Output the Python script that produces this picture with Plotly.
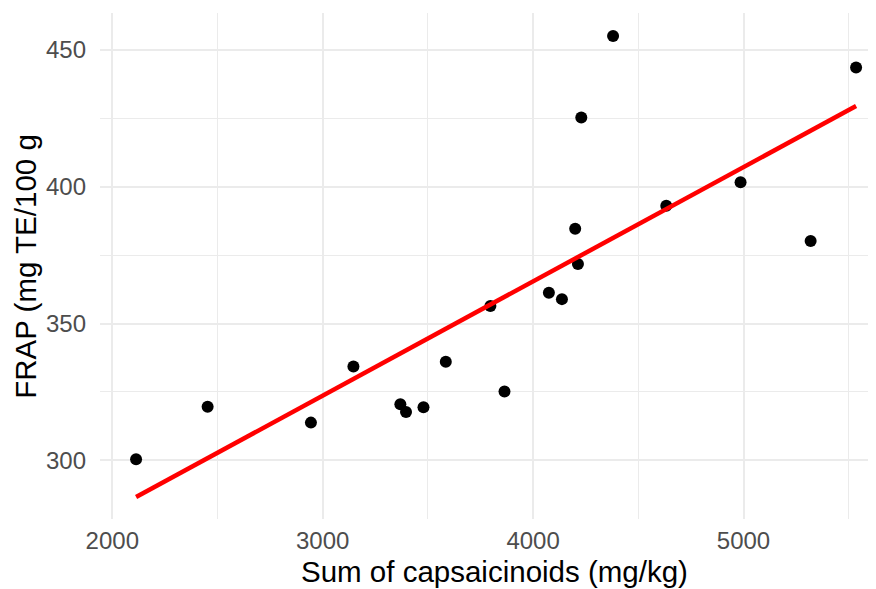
import numpy as np
import plotly.graph_objects as go

capsaicinoids = [2113, 2453, 2944, 3146, 3369, 3396, 3479, 3585, 3797, 3864,
                 4075, 4137, 4200, 4213, 4229, 4380, 4633, 4986, 5319, 5535]
frap = [300.4, 319.6, 313.8, 334.3, 320.5, 317.7, 319.4, 336.0, 356.4, 325.2,
        361.2, 358.9, 384.6, 371.7, 425.2, 455.0, 393.0, 401.6, 380.1, 443.5]

x_ticks = [2000, 3000, 4000, 5000]
y_ticks = [300, 350, 400, 450]
x_title = "Sum of capsaicinoids (mg/kg)"
y_title = "FRAP (mg TE/100 g"

xa = np.array(capsaicinoids, dtype=float)
ya = np.array(frap, dtype=float)
slope, intercept = np.polyfit(xa, ya, 1)
line_x = [xa.min(), xa.max()]
line_y = [slope * v + intercept for v in line_x]

FONT = "Liberation Sans, Arial, Helvetica, sans-serif"
GRID = "#EBEBEB"

fig = go.Figure()
fig.add_trace(go.Scatter(x=capsaicinoids, y=frap, mode="markers",
                         marker=dict(color="black", size=12, line=dict(width=0)),
                         showlegend=False, hoverinfo="x+y"))
fig.add_trace(go.Scatter(x=line_x, y=line_y, mode="lines",
                         line=dict(color="#FF0000", width=4.5),
                         showlegend=False))

fig.update_layout(
    width=868, height=581,
    margin=dict(l=92, r=0, t=5, b=70),
    paper_bgcolor="white", plot_bgcolor="white",
    font=dict(family=FONT),
    xaxis=dict(range=[1941.5, 5629.7], tickvals=x_ticks,
               ticktext=[str(v) for v in x_ticks],
               showgrid=True, gridcolor=GRID, gridwidth=1.8,
               minor=dict(dtick=500, tick0=2000, showgrid=True, gridcolor=GRID, gridwidth=1.0),
               zeroline=False, showline=False, ticks="",
               tickfont=dict(size=24, color="#4D4D4D", family=FONT),
               ticklabelstandoff=5),
    yaxis=dict(range=[278.6, 463.4], tickvals=y_ticks,
               ticktext=[str(v) for v in y_ticks],
               showgrid=True, gridcolor=GRID, gridwidth=1.8,
               minor=dict(dtick=25, tick0=300, showgrid=True, gridcolor=GRID, gridwidth=1.0),
               zeroline=False, showline=False, ticks="",
               tickfont=dict(size=24, color="#4D4D4D", family=FONT),
               ticklabelstandoff=13),
    annotations=[
        dict(text=x_title, xref="paper", yref="paper", x=0.509, y=0,
             xanchor="center", yanchor="top", yshift=-34, showarrow=False,
             font=dict(size=29.5, color="black", family=FONT)),
        dict(text=y_title, xref="paper", yref="paper", x=-0.097, y=0.5,
             xanchor="center", yanchor="middle", textangle=-90, showarrow=False,
             font=dict(size=29.5, color="black", family=FONT)),
    ],
)

fig.write_html("out.html")
